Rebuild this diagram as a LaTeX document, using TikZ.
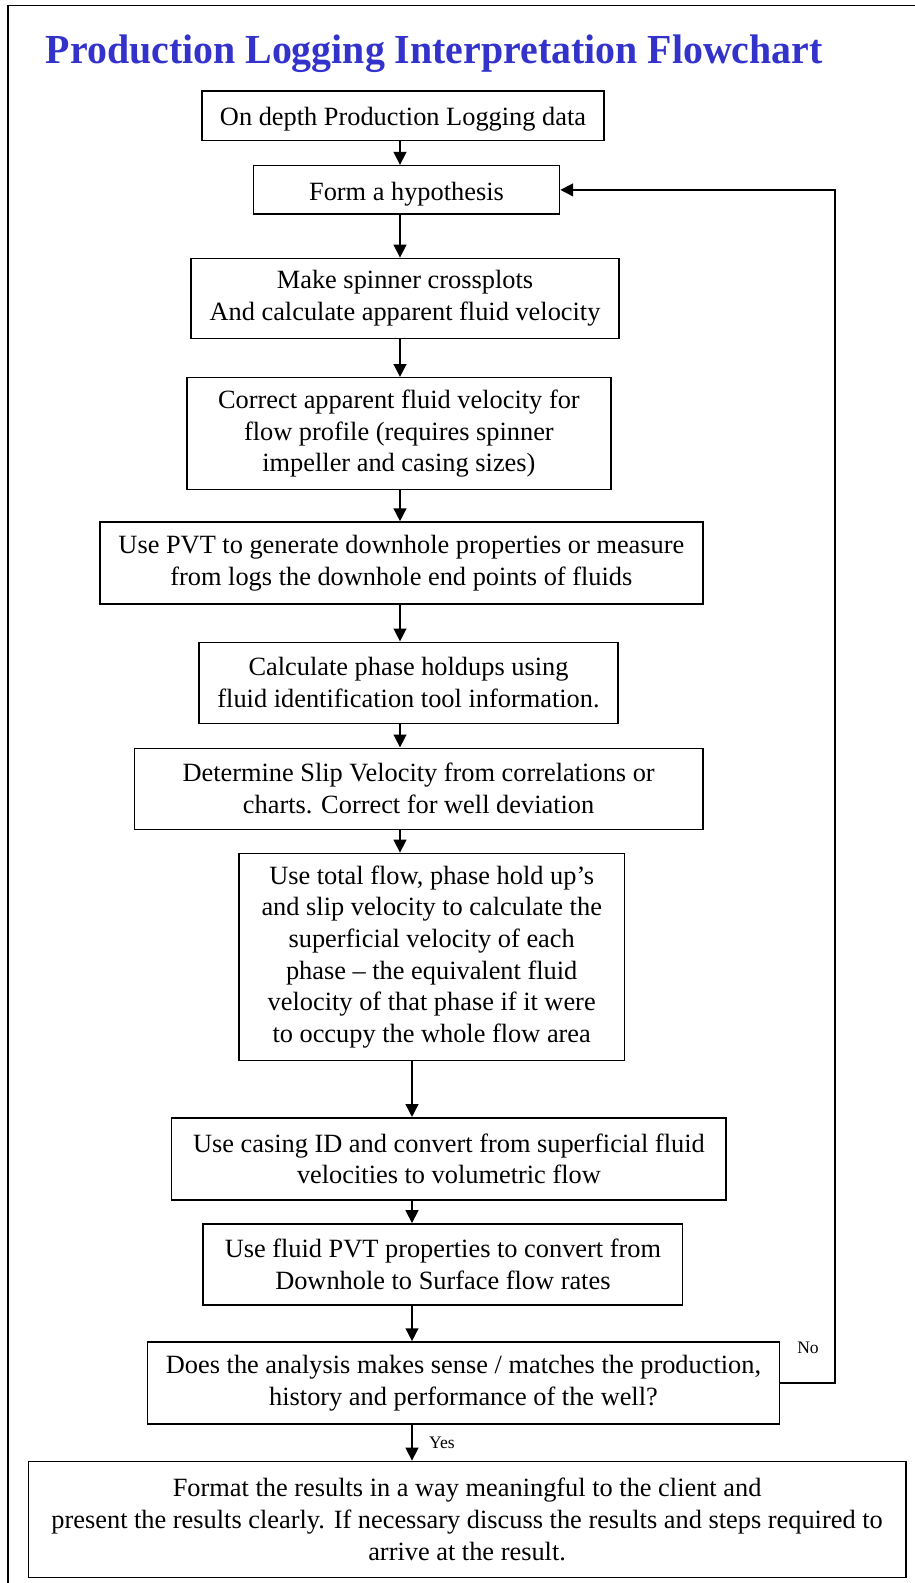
\documentclass[tikz,border=0pt]{standalone}
\usepackage{fontspec}
\setmainfont{Liberation Serif}
\newfontfamily\titlefont[FakeStretch=0.965]{Liberation Serif}
\usepackage{xcolor}
\usetikzlibrary{arrows.meta, positioning, calc}

\definecolor{titleblue}{RGB}{51,51,204}

\begin{document}
\begin{tikzpicture}[
    stepbox/.style={
        rectangle, draw=black, line width=0.8pt, align=center,
        inner sep=0pt, font=\fontsize{15}{18}\selectfont
    },
    lowered/.style={execute at begin node={\rule{0pt}{1em}}},
    arrow/.style={-{Triangle[length=2.6mm, width=2.5mm]}, line width=1.5pt},
    tag/.style={font=\fontsize{10}{12}\selectfont, inner sep=1pt}
]
    \useasboundingbox (0,0) rectangle (18.3,-31.66);
    % frame and title
    \draw[line width=1.1pt] (0.16,-31.66) -- (0.16,-0.11) -- (18.3,-0.11);
    \node[anchor=base west, inner sep=0pt, text=titleblue,
          font=\titlefont\fontsize{23.5}{28}\selectfont\bfseries] (title) at (0.91,-1.26)
        {Production Logging Interpretation Flowchart};

    \node[stepbox, lowered, minimum width=8.04cm, minimum height=0.99cm] (B1) at (8.06,-2.312)
        {On depth Production Logging data};
    \node[stepbox, lowered, minimum width=6.12cm, minimum height=0.97cm] (B2) at (8.13,-3.798)
        {Form a hypothesis};
    \node[stepbox, lowered, minimum width=8.56cm, minimum height=1.60cm] (B3) at (8.10,-5.968)
        {Make spinner crossplots\\And calculate apparent fluid velocity};
    \node[stepbox, lowered, minimum width=8.48cm, minimum height=2.24cm] (B4) at (7.978,-8.674)
        {Correct apparent fluid velocity for\\flow profile (requires spinner\\impeller and casing sizes)};
    \node[stepbox, lowered, minimum width=12.06cm, minimum height=1.64cm] (B5) at (8.028,-11.26)
        {Use PVT to generate downhole properties or measure\\from logs the downhole end points of fluids};
    \node[stepbox, minimum width=8.38cm, minimum height=1.62cm] (B6) at (8.17,-13.654)
        {Calculate phase holdups using\\fluid identification tool information.};
    \node[stepbox, minimum width=11.37cm, minimum height=1.62cm] (B7) at (8.372,-15.774)
        {Determine Slip Velocity from correlations or\\charts. Correct for well deviation};
    \node[stepbox, lowered, minimum width=7.70cm, minimum height=4.14cm] (B8) at (8.634,-19.138)
        {Use total flow, phase hold up’s\\and slip velocity to calculate the\\superficial velocity of each\\phase – the equivalent fluid\\velocity of that phase if it were\\to occupy the whole flow area};
    \node[stepbox, minimum width=11.09cm, minimum height=1.64cm] (B9) at (8.978,-23.176)
        {Use casing ID and convert from superficial fluid\\velocities to volumetric flow};
    \node[stepbox, minimum width=9.59cm, minimum height=1.62cm] (B10) at (8.858,-25.288)
        {Use fluid PVT properties to convert from\\Downhole to Surface flow rates};
    \node[stepbox, lowered, minimum width=12.64cm, minimum height=1.64cm] (B11) at (9.27,-27.66)
        {Does the analysis makes sense / matches the production,\\history and performance of the well?};
    \node[stepbox, minimum width=17.55cm, minimum height=2.32cm] (B12) at (9.342,-30.388)
        {Format the results in a way meaningful to the client and\\present the results clearly. If necessary discuss the results and steps required to\\arrive at the result.};

    \coordinate (upx) at (8.0,0);
    \coordinate (lowx) at (8.24,0);
    \coordinate (loopx) at (16.7,0);

    \draw[arrow] (B1.south -| upx) -- (B2.north -| upx);
    \draw[arrow] (B2.south -| upx) -- (B3.north -| upx);
    \draw[arrow] (B3.south -| upx) -- (B4.north -| upx);
    \draw[arrow] (B4.south -| upx) -- (B5.north -| upx);
    \draw[arrow] (B5.south -| upx) -- (B6.north -| upx);
    \draw[arrow] (B6.south -| upx) -- (B7.north -| upx);
    \draw[arrow] (B7.south -| upx) -- (B8.north -| upx);
    \draw[arrow] (B8.south -| lowx) -- (B9.north -| lowx);
    \draw[arrow] (B9.south -| lowx) -- (B10.north -| lowx);
    \draw[arrow] (B10.south -| lowx) -- (B11.north -| lowx);
    \draw[arrow] (B11.south -| lowx) -- node[tag, right=0.28cm] (yes) {Yes} (B12.north -| lowx);
    \draw[arrow] (B11.east) -- (B11.east -| loopx) -- (B2.east -| loopx) -- (B2.east);
    \node[tag] (no) at (16.16,-26.96) {No};
\end{tikzpicture}
\end{document}
